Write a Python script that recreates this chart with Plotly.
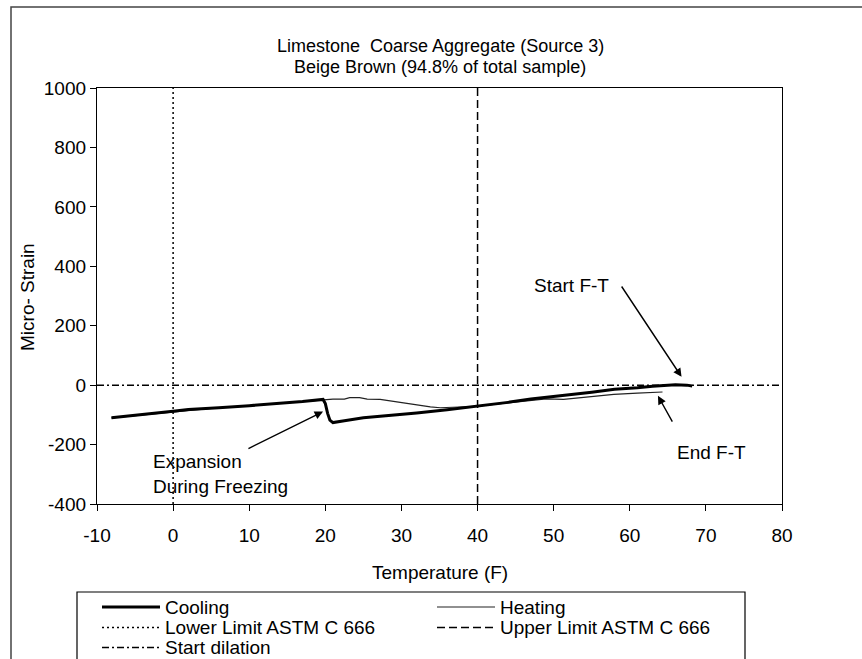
import plotly.graph_objects as go

# ---- data -----------------------------------------------------------------
# Cooling run (from the start of the freeze-thaw cycle at ~68 F down to -8 F)
cooling_temp = [68.2, 67.5, 66.0, 65.0, 63.0, 61.0, 58.0, 55.0, 52.0, 50.0,
                47.0, 44.0, 40.0, 36.0, 32.0, 28.5, 25.0, 22.5, 21.0, 20.6,
                20.3, 20.0, 19.7, 17.0, 14.0, 10.0, 6.0, 2.0, 0.0, -3.0,
                -6.0, -8.1]
cooling_strain = [-3, 0, 1, 0, -4, -9, -14, -24, -32, -37,
                  -47, -58, -71, -83, -94, -102, -110, -120, -126, -118,
                  -95, -62, -48, -55, -62, -69, -76, -82, -88, -96,
                  -103, -110]

# Heating run (from -8 F back up to the end of the cycle at ~64 F)
heating_temp = [-8.1, -4.0, 0.0, 5.0, 10.0, 15.0, 19.7, 21.0, 22.5, 23.2,
                24.5, 25.5, 27.2, 29.0, 31.0, 33.8, 35.1, 37.0, 40.0, 43.0,
                46.0, 49.0, 51.3, 54.0, 57.9, 61.0, 64.3]
heating_strain = [-110, -100, -88, -78, -69, -58, -48, -47, -47, -42,
                  -42, -47, -48, -55, -63, -73, -76, -74, -71, -62,
                  -53, -46, -48, -41, -31, -27, -23]

# ASTM C 666 temperature limits and the start-dilation reference strain
lower_limit_temp = 0
upper_limit_temp = 40
start_dilation_strain = 0

x_range = [-10, 80]
y_range = [-400, 1000]
x_tick_vals = [-10, 0, 10, 20, 30, 40, 50, 60, 70, 80]
x_tick_text = ["-10", "0", "10", "20", "30", "40", "50", "60", "70", "80"]
y_tick_vals = [-400, -200, 0, 200, 400, 600, 800, 1000]
y_tick_text = ["-400", "-200", "0", "200", "400", "600", "800", "1000"]

series_names = ["Cooling", "Heating", "Lower Limit ASTM C 666",
                "Upper Limit ASTM C 666", "Start dilation"]
title_lines = ["Limestone  Coarse Aggregate (Source 3)",
               "Beige Brown (94.8% of total sample)"]

# ---- styling ----------------------------------------------------------------
W, H = 862, 659
ML, MR, MT, MB = 97, 80, 88, 155
FONT = "Liberation Sans, Arial, sans-serif"
FS = 19

line_styles = {
    "Cooling": dict(color="black", width=3),
    "Heating": dict(color="#222", width=1.2),
    "Lower Limit ASTM C 666": dict(color="black", width=1.5, dash="2px,3px"),
    "Upper Limit ASTM C 666": dict(color="black", width=1.5, dash="8px,4px"),
    "Start dilation": dict(color="black", width=1.5, dash="7px,3px,2px,3px"),
}


def px_x(px):
    return (px - ML) / (W - ML - MR)


def px_y(py):
    return (H - MB - py) / (H - MT - MB)


fig = go.Figure()

fig.add_trace(go.Scatter(x=[lower_limit_temp, lower_limit_temp], y=y_range,
                         mode="lines", name=series_names[2],
                         line=line_styles[series_names[2]]))
fig.add_trace(go.Scatter(x=[upper_limit_temp, upper_limit_temp], y=y_range,
                         mode="lines", name=series_names[3],
                         line=line_styles[series_names[3]]))
fig.add_trace(go.Scatter(x=x_range, y=[start_dilation_strain] * 2,
                         mode="lines", name=series_names[4],
                         line=line_styles[series_names[4]]))
fig.add_trace(go.Scatter(x=heating_temp, y=heating_strain, mode="lines",
                         name=series_names[1],
                         line=line_styles[series_names[1]]))
fig.add_trace(go.Scatter(x=cooling_temp, y=cooling_strain, mode="lines",
                         name=series_names[0],
                         line=line_styles[series_names[0]]))

axis_common = dict(showline=True, linecolor="black", linewidth=1.3,
                   mirror=True, ticks="outside", ticklen=6, tickwidth=1.2,
                   tickcolor="black", showgrid=False, zeroline=False,
                   tickfont=dict(family=FONT, size=FS, color="black"))

fig.update_xaxes(range=x_range, tickvals=x_tick_vals, ticktext=x_tick_text,
                 ticklabelstandoff=8, **axis_common)
fig.update_yaxes(range=y_range, tickvals=y_tick_vals, ticktext=y_tick_text,
                 **axis_common)

annotations = []
shapes = []
text_font = dict(family=FONT, size=FS, color="black")

# chart title, one annotation per line
for line, ty in zip(title_lines, [46, 67]):
    annotations.append(dict(text=line, xref="paper", yref="paper",
                             x=px_x(440), y=px_y(ty), showarrow=False,
                             xanchor="center", yanchor="middle",
                             font=dict(family=FONT, size=18, color="black")))

# axis titles
annotations.append(dict(text="Temperature (F)", xref="paper", yref="paper",
                         x=px_x(440), y=px_y(572), showarrow=False,
                         xanchor="center", yanchor="middle", font=text_font))
annotations.append(dict(text="Micro- Strain", xref="paper", yref="paper",
                         x=px_x(27), y=px_y(297), showarrow=False,
                         textangle=-90, xanchor="center", yanchor="middle",
                         font=text_font))

# callouts
annotations.append(dict(text="Start F-T", x=52.3, y=337, xref="x", yref="y",
                         showarrow=False, font=text_font))
annotations.append(dict(text="", x=66.8, y=28, ax=58.8, ay=337,
                         xref="x", yref="y", axref="x", ayref="y",
                         showarrow=True, arrowhead=2, arrowsize=1.2,
                         arrowwidth=1.4, arrowcolor="black"))
annotations.append(dict(text="End F-T", x=70.7, y=-226, xref="x", yref="y",
                         showarrow=False, font=text_font))
annotations.append(dict(text="", x=63.7, y=-36, ax=65.7, ay=-128,
                         xref="x", yref="y", axref="x", ayref="y",
                         showarrow=True, arrowhead=2, arrowsize=1.2,
                         arrowwidth=1.4, arrowcolor="black"))
annotations.append(dict(text="Expansion<br>During Freezing", x=-2.95, y=-300,
                         xref="x", yref="y", showarrow=False, align="left",
                         xanchor="left", yanchor="middle", font=text_font))
annotations.append(dict(text="", x=19.7, y=-89, ax=9.7, ay=-216,
                         xref="x", yref="y", axref="x", ayref="y",
                         showarrow=True, arrowhead=2, arrowsize=1.2,
                         arrowwidth=1.4, arrowcolor="black"))

# outer chart frame
shapes.append(dict(type="rect", xref="paper", yref="paper",
                   x0=px_x(11), x1=px_x(880), y0=px_y(700), y1=px_y(7),
                   line=dict(color="#444", width=1.5), layer="below"))

# legend box with its line samples
shapes.append(dict(type="rect", xref="paper", yref="paper",
                   x0=px_x(77), x1=px_x(745), y0=px_y(700), y1=px_y(592),
                   line=dict(color="black", width=1.2),
                   fillcolor="white", layer="above"))
legend_slots = [(102, 607), (437, 607), (102, 627.5), (437, 627.5),
                (102, 647.5)]
for name, (lx, ly) in zip(series_names, legend_slots):
    shapes.append(dict(type="line", xref="paper", yref="paper",
                       x0=px_x(lx), x1=px_x(lx + 58), y0=px_y(ly), y1=px_y(ly),
                       line=line_styles[name], layer="above"))
    annotations.append(dict(text=name, xref="paper", yref="paper",
                             x=px_x(lx + 61), y=px_y(ly), showarrow=False,
                             xanchor="left", yanchor="middle", font=text_font))

fig.update_layout(
    width=W, height=H,
    margin=dict(l=ML, r=MR, t=MT, b=MB),
    paper_bgcolor="white", plot_bgcolor="white",
    showlegend=False,
    annotations=annotations,
    shapes=shapes,
)

fig.write_html("out.html")
